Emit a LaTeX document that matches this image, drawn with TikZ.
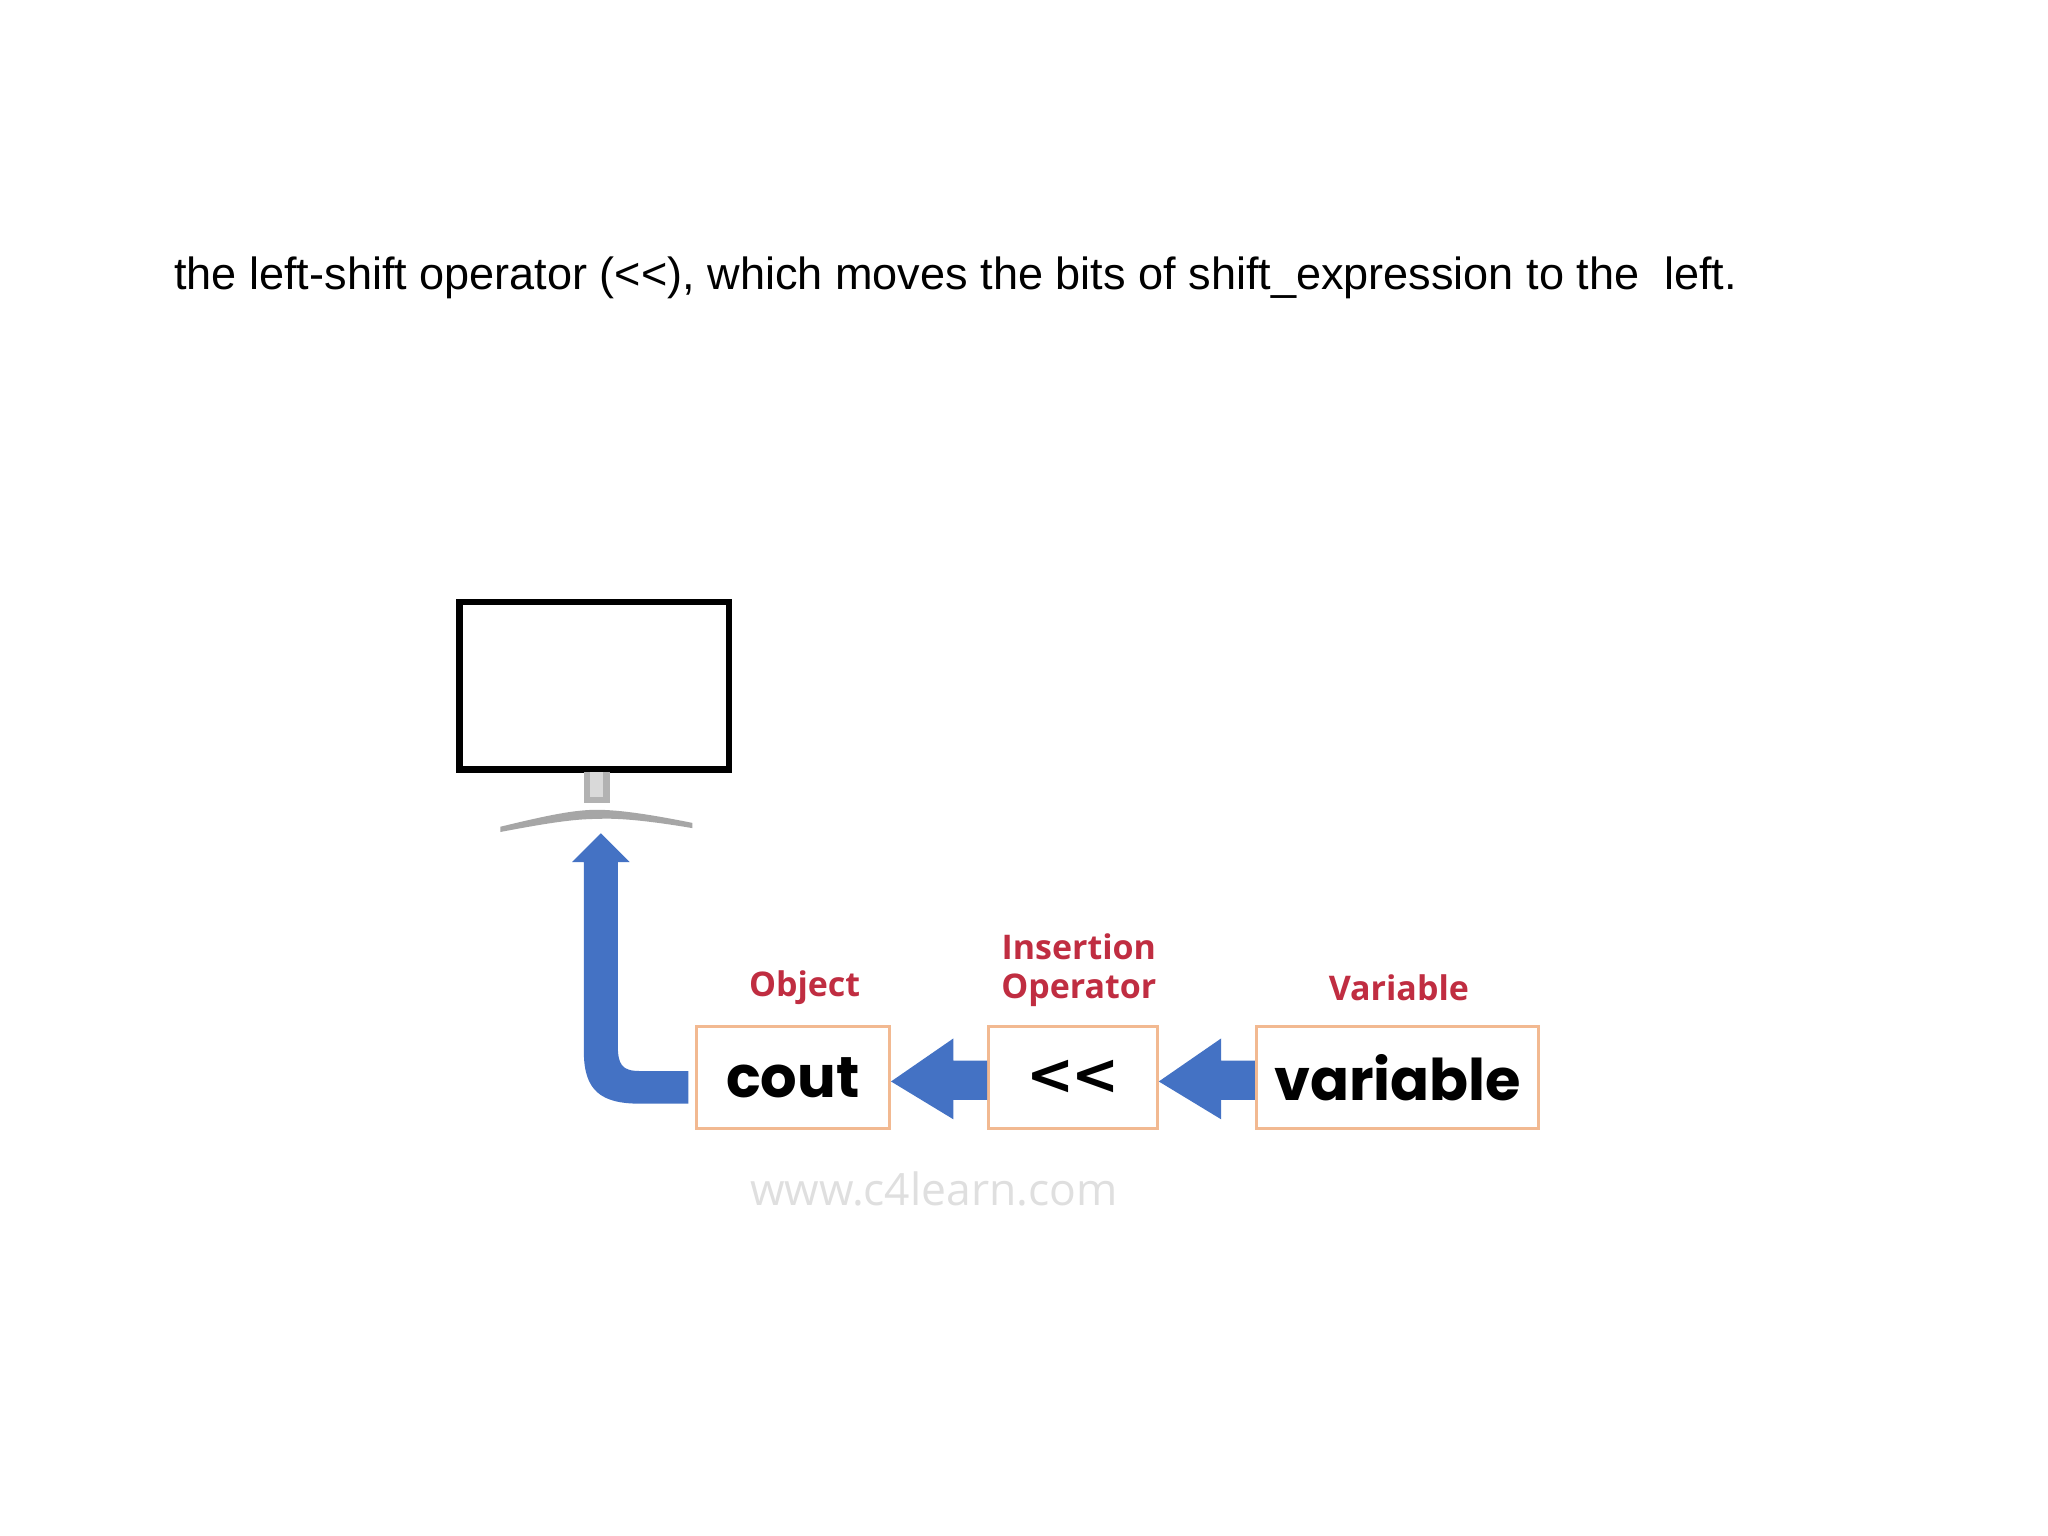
\documentclass[tikz,border=0pt]{standalone}
\usepackage{fontspec}
\setmainfont{Liberation Sans}
\newfontfamily\boxfont{Poppins}
\newfontfamily\lblfont{Open Sans}
\newfontfamily\opfont{DejaVu Sans}
\usetikzlibrary{arrows.meta}
\definecolor{arrblue}{RGB}{68,114,196}
\definecolor{lblred}{RGB}{192,45,65}
\definecolor{boxor}{RGB}{242,185,145}
\tikzset{
 vbox/.style={draw=boxor,line width=1.2pt,fill=white,inner sep=0pt,font=\boxfont\bfseries\fontsize{22}{22}\selectfont},
 lbl/.style={text=lblred,font=\lblfont\bfseries\fontsize{13}{15}\selectfont,align=center},
 fatarrow/.style={fill=arrblue,draw=none}
}
\begin{document}
\begin{tikzpicture}[x=0.5pt,y=-0.5pt]
\useasboundingbox (0,0) rectangle (1568,1176);
\fill[white] (0,0) rectangle (1568,1176);
\node[anchor=west,font=\fontsize{17.25}{19}\selectfont,inner sep=0pt] (title) at (133,213) {the left-shift operator ({<}{<}), which moves the bits of shift\_expression to the\ \ left.};
% monitor
\draw[line width=2.5pt,fill=white] (352,461) rectangle (558,589);
\fill[gray!60] (447,591) rectangle (467,615);
\fill[gray!30] (452,591) rectangle (462,610);
\fill[gray!70] (383,633) .. controls (420,624) and (440,620) .. (457,620) .. controls (475,620) and (500,624) .. (530,630) -- (530,634) .. controls (500,629) and (475,626) .. (457,627) .. controls (440,627) and (420,630) .. (383,637) -- cycle;
\coordinate (mon) at (460,638);
% boxes
\node[vbox,minimum width=74pt,minimum height=39pt] (cout) at (607,825) {cout};
\node[vbox,minimum width=64.5pt,minimum height=39pt,font=\opfont\bfseries\fontsize{22}{22}\selectfont] (op) at (821.5,825) {{<}\kern-1pt{<}};
\node[vbox,minimum width=108pt,minimum height=39pt] (var) at (1070,825) {variable};
\node[lbl] (lobj) at (616,756) {Object};
\node[lbl] (lop) at (826,743) {Insertion\\Operator};
\node[lbl] (lvar) at (1071,756) {Variable};
% fat arrows
\fill[fatarrow] (var.west|-0,812) -- (935,812) -- (935,795) -- (op.east|-0,828) -- (935,857) -- (935,842) -- (var.west|-0,842) -- cycle;
\fill[fatarrow] (op.west|-0,812) -- (730,812) -- (730,795) -- (cout.east|-0,828) -- (730,857) -- (730,842) -- (op.west|-0,842) -- cycle;
\fill[fatarrow] (527,820) -- (490,820) .. controls (476,820) and (473,815) .. (473,800) -- (473,660) -- (482,660) -- (mon) -- (438,660) -- (447,660) -- (447,805) .. controls (447,835) and (460,845) .. (490,845) -- (527,845) -- cycle;
\node[text=gray!25,font=\lblfont\fontsize{17}{17}\selectfont] (wm) at (715,910) {www.c4learn.com};
\end{tikzpicture}
\end{document}
